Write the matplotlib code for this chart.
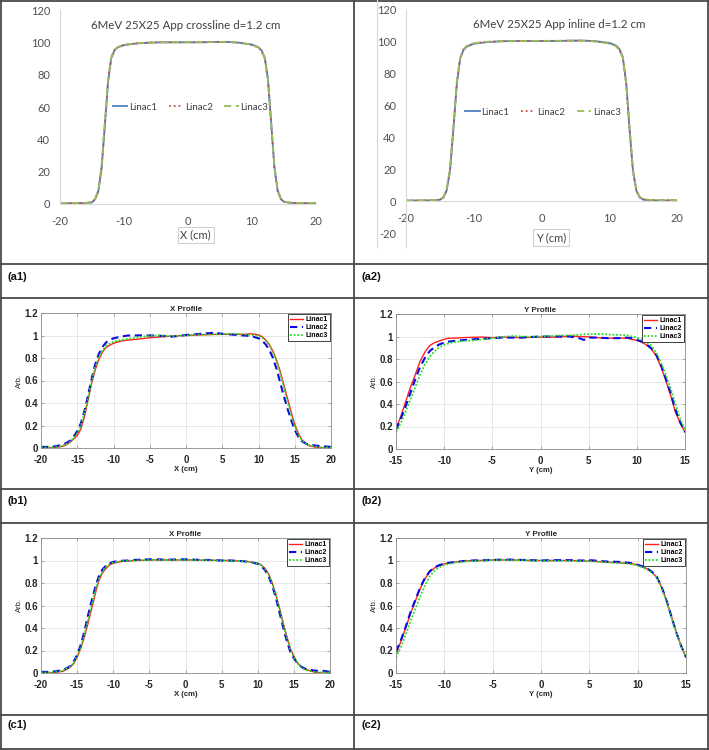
import matplotlib
matplotlib.use("Agg")
import matplotlib.pyplot as plt
from matplotlib.lines import Line2D

plt.rcParams["axes.unicode_minus"] = False

W, H = 709, 750

# ---------------- data ----------------
linac_names = ["Linac1", "Linac2", "Linac3"]

# (a1) crossline, percent
xa1 = [-20, -18, -16, -15, -14.5, -14, -13.5, -13, -12.5, -12, -11.5, -11, -10, -8, -6, -4, -2, 0,
       2, 4, 6, 8, 10, 11, 11.5, 12, 12.5, 13, 13.5, 14, 14.5, 15, 16, 18, 20]
a1_l1 = [0.5, 0.5, 0.6, 1.0, 3.0, 8.0, 22, 48, 75, 90, 95, 96.8, 98.3, 99.3, 99.8, 100, 100, 100,
         100, 100.2, 100.3, 99.8, 98.6, 97, 95, 90.5, 77, 50, 23, 8.5, 3.2, 1.3, 0.7, 0.5, 0.5]
a1_l2 = [0.4, 0.5, 0.6, 1.1, 3.2, 8.5, 23, 49, 76, 90.5, 95.2, 97, 98.5, 99.4, 99.9, 100, 100.1, 100,
         100.1, 100.2, 100.2, 99.7, 98.4, 96.8, 94.6, 90, 76, 49, 22, 8.2, 3.0, 1.4, 0.8, 0.6, 0.5]
a1_l3 = [0.5, 0.6, 0.7, 1.2, 3.4, 9.0, 24, 50, 76.5, 90.8, 95.3, 97.1, 98.4, 99.4, 99.8, 100, 100, 100.1,
         100.1, 100.1, 100.3, 99.8, 98.5, 96.9, 94.8, 90.2, 76.5, 50, 23.5, 9.0, 3.4, 1.5, 0.8, 0.6, 0.6]

# (a2) inline, percent
xa2 = [-20, -18, -16, -15, -14.5, -14, -13.5, -13, -12.5, -12, -11.5, -11, -10, -8, -6, -4, -2, 0,
       2, 4, 6, 8, 10, 11, 11.5, 12, 12.5, 13, 13.5, 14, 14.5, 15, 16, 18, 20]
a2_l1 = [0.3, 0.3, 0.4, 0.8, 2.0, 6.5, 19, 45, 73, 89, 94.5, 96.5, 98.3, 99.3, 99.8, 100, 100, 100,
         100, 100.2, 100.3, 99.9, 98.8, 97.2, 95, 90, 74, 45, 19, 6.5, 2.2, 0.9, 0.4, 0.3, 0.3]
a2_l2 = [0.3, 0.3, 0.4, 0.9, 2.2, 7.0, 20, 46, 74, 89.5, 94.8, 96.8, 98.5, 99.5, 99.9, 100, 100.1, 100,
         100.1, 100.1, 100.2, 99.7, 98.5, 96.9, 94.5, 89.5, 73, 44, 18.5, 6.3, 2.3, 1.0, 0.6, 0.5, 0.5]
a2_l3 = [0.3, 0.4, 0.5, 0.9, 2.4, 7.2, 20.5, 46.5, 74.5, 89.8, 95, 97, 98.6, 99.5, 99.8, 100, 100, 100.1,
         100.1, 100.2, 100.2, 99.7, 98.4, 96.7, 94.3, 89.6, 74, 46, 20, 7.0, 2.6, 1.2, 0.7, 0.6, 0.6]

# (b1)/(c1) X profile, normalised
xX = [-20, -19, -18, -17, -16.5, -16, -15.5, -15, -14.5, -14, -13.5, -13, -12.5, -12, -11.5, -11, -10.5,
      -10, -9, -8, -7, -6, -5, -4, -3, -2, -1, 0, 1, 2, 3, 4, 5, 6, 7, 8, 9, 10, 10.5, 11, 11.5, 12,
      12.5, 13, 13.5, 14, 14.5, 15, 15.5, 16, 16.5, 17, 18, 19, 20]
b1_l1 = [0.0, 0.0, 0.005, 0.015, 0.03, 0.05, 0.08, 0.11, 0.17, 0.28, 0.43, 0.58, 0.70, 0.79, 0.855, 0.895, 0.915,
         0.93, 0.95, 0.96, 0.965, 0.972, 0.98, 0.985, 0.99, 0.995, 0.998, 1.0, 1.003, 1.005, 1.008, 1.01, 1.01, 1.01,
         1.01, 1.01, 1.015, 1.005, 0.99, 0.96, 0.92, 0.86, 0.78, 0.68, 0.56, 0.44, 0.32, 0.21, 0.13, 0.07, 0.04,
         0.02, 0.005, 0.0, 0.0]
b1_l2 = [0.01, 0.01, 0.015, 0.03, 0.045, 0.065, 0.10, 0.15, 0.22, 0.33, 0.47, 0.62, 0.75, 0.84, 0.90, 0.94, 0.96,
         0.975, 0.99, 1.0, 1.0, 1.002, 1.0, 1.0, 0.995, 0.99, 0.995, 1.005, 1.01, 1.015, 1.02, 1.025, 1.015, 1.01,
         1.005, 1.0, 0.995, 0.975, 0.955, 0.92, 0.87, 0.80, 0.70, 0.58, 0.46, 0.35, 0.25, 0.16, 0.10, 0.06, 0.04,
         0.03, 0.02, 0.015, 0.01]
b1_l3 = [0.005, 0.005, 0.01, 0.02, 0.035, 0.055, 0.09, 0.13, 0.20, 0.31, 0.45, 0.60, 0.72, 0.81, 0.87, 0.91, 0.93,
         0.945, 0.96, 0.97, 0.98, 0.99, 0.995, 1.0, 0.998, 0.995, 0.998, 1.0, 1.005, 1.01, 1.008, 1.01, 1.012, 1.015,
         1.015, 1.01, 1.005, 0.995, 0.98, 0.955, 0.91, 0.85, 0.77, 0.66, 0.54, 0.41, 0.29, 0.19, 0.12, 0.07, 0.04,
         0.025, 0.01, 0.005, 0.005]

c1_l1 = [0.0, 0.0, 0.005, 0.015, 0.03, 0.05, 0.08, 0.14, 0.22, 0.32, 0.44, 0.57, 0.70, 0.82, 0.89, 0.93, 0.96,
         0.975, 0.99, 0.995, 1.0, 1.002, 1.005, 1.005, 1.005, 1.005, 1.005, 1.005, 1.005, 1.003, 1.003, 1.002, 1.0,
         1.0, 0.998, 0.995, 0.988, 0.976, 0.96, 0.93, 0.88, 0.80, 0.70, 0.58, 0.45, 0.33, 0.22, 0.15, 0.09, 0.06,
         0.035, 0.025, 0.005, 0.0, 0.0]
c1_l2 = [0.01, 0.01, 0.015, 0.025, 0.04, 0.06, 0.10, 0.16, 0.25, 0.37, 0.51, 0.64, 0.76, 0.86, 0.92, 0.955, 0.975,
         0.988, 0.997, 1.0, 1.005, 1.008, 1.01, 1.01, 1.008, 1.008, 1.01, 1.01, 1.008, 1.005, 1.005, 1.003, 1.0,
         1.0, 0.998, 0.993, 0.985, 0.97, 0.95, 0.915, 0.86, 0.78, 0.67, 0.54, 0.41, 0.29, 0.19, 0.13, 0.085, 0.055,
         0.04, 0.03, 0.02, 0.02, 0.01]
c1_l3 = [0.005, 0.005, 0.01, 0.02, 0.035, 0.055, 0.09, 0.15, 0.23, 0.34, 0.47, 0.60, 0.73, 0.84, 0.905, 0.945, 0.97,
         0.982, 0.993, 0.998, 1.0, 1.003, 1.005, 1.005, 1.005, 1.005, 1.005, 1.005, 1.005, 1.003, 1.003, 1.0, 1.0,
         0.998, 0.996, 0.993, 0.986, 0.974, 0.957, 0.925, 0.875, 0.795, 0.69, 0.57, 0.44, 0.32, 0.21, 0.14, 0.085,
         0.05, 0.03, 0.02, 0.008, 0.005, 0.005]

# (b2)/(c2) Y profile, normalised
xY = [-15, -14.5, -14, -13.5, -13, -12.5, -12, -11.5, -11, -10.5, -10, -9.5, -9, -8, -7, -6, -5, -4, -3, -2,
      -1, 0, 1, 2, 3, 4, 4.5, 5, 5.5, 6, 7, 8, 9, 9.5, 10, 10.5, 11, 11.5, 12, 12.5, 13, 13.5, 14, 14.5, 15]
b2_l1 = [0.18, 0.29, 0.42, 0.55, 0.66, 0.78, 0.86, 0.92, 0.945, 0.96, 0.975, 0.985, 0.985, 0.99, 0.993, 0.995,
         0.99, 0.995, 0.993, 0.99, 0.993, 0.995, 0.995, 0.995, 1.005, 1.0, 0.998, 0.997, 0.993, 0.99, 0.985, 0.985,
         0.985, 0.975, 0.965, 0.95, 0.925, 0.89, 0.83, 0.73, 0.61, 0.48, 0.33, 0.23, 0.15]
b2_l2 = [0.17, 0.27, 0.38, 0.50, 0.62, 0.73, 0.81, 0.87, 0.905, 0.93, 0.945, 0.955, 0.96, 0.968, 0.975, 0.98,
         0.985, 0.99, 0.99, 0.99, 0.995, 1.0, 1.0, 1.0, 1.0, 0.985, 0.97, 0.99, 0.99, 0.99, 0.985, 0.985, 0.99,
         0.985, 0.97, 0.955, 0.93, 0.895, 0.84, 0.75, 0.63, 0.50, 0.35, 0.24, 0.15]
b2_l3 = [0.15, 0.23, 0.33, 0.44, 0.55, 0.66, 0.75, 0.82, 0.87, 0.905, 0.925, 0.94, 0.95, 0.96, 0.965, 0.975,
         0.985, 0.995, 1.005, 1.0, 0.998, 1.0, 1.005, 1.008, 1.01, 1.015, 1.02, 1.02, 1.022, 1.022, 1.018, 1.015,
         1.01, 1.0, 0.99, 0.975, 0.95, 0.92, 0.86, 0.77, 0.66, 0.54, 0.40, 0.27, 0.17]

c2_l1 = [0.17, 0.28, 0.40, 0.53, 0.64, 0.75, 0.84, 0.90, 0.935, 0.955, 0.97, 0.98, 0.985, 0.995, 1.0, 1.0,
         1.005, 1.005, 1.005, 1.003, 1.0, 1.0, 1.0, 1.0, 1.0, 0.998, 0.995, 0.995, 0.993, 0.99, 0.985, 0.98,
         0.975, 0.97, 0.96, 0.945, 0.925, 0.895, 0.85, 0.76, 0.64, 0.50, 0.36, 0.24, 0.14]
c2_l2 = [0.19, 0.29, 0.41, 0.54, 0.65, 0.76, 0.845, 0.905, 0.94, 0.96, 0.972, 0.98, 0.985, 0.995, 1.0, 1.002,
         1.005, 1.008, 1.008, 1.005, 1.003, 1.0, 1.003, 1.003, 1.003, 1.0, 1.0, 1.003, 1.0, 0.995, 0.99, 0.988,
         0.98, 0.975, 0.962, 0.948, 0.928, 0.898, 0.85, 0.76, 0.64, 0.50, 0.36, 0.24, 0.14]
c2_l3 = [0.14, 0.23, 0.34, 0.46, 0.57, 0.68, 0.78, 0.86, 0.91, 0.94, 0.96, 0.97, 0.98, 0.99, 0.995, 1.0,
         1.003, 1.005, 1.003, 1.003, 1.0, 1.0, 0.998, 0.998, 0.998, 0.996, 0.994, 0.993, 0.99, 0.988, 0.983, 0.978,
         0.972, 0.966, 0.955, 0.94, 0.92, 0.89, 0.845, 0.75, 0.63, 0.49, 0.36, 0.24, 0.14]

a_titles = ["6MeV 25X25 App crossline d=1.2 cm", "6MeV 25X25 App inline d=1.2 cm"]
a_xlabels = ["X (cm)", "Y (cm)"]
m_titles = ["X Profile", "Y Profile"]
m_xlabels = ["X (cm)", "Y (cm)"]
panel_labels = ["(a1)", "(a2)", "(b1)", "(b2)", "(c1)", "(c2)"]

# ---------------- figure ----------------
fig = plt.figure(figsize=(W / 100, H / 100), dpi=100)


def rect(l, t, r, b):
    return [l / W, 1 - b / H, (r - l) / W, (b - t) / H]


def fline(x0, y0, x1, y1, color="#4a4a4a", lw=1.3):
    fig.add_artist(Line2D([x0 / W, x1 / W], [1 - y0 / H, 1 - y1 / H],
                          transform=fig.transFigure, color=color, lw=lw))


# table grid
for yy in [0.7, 264, 298, 489, 523, 715, 749]:
    fline(0, yy, W, yy)
for xx in [0.7, 354, 708]:
    fline(xx, 0, xx, H)

for lab, (px, py) in zip(panel_labels, [(8, 277), (362, 277), (8, 501), (362, 501), (8, 725), (362, 725)]):
    fig.text(px / W, 1 - py / H, lab, fontsize=8, fontweight="bold", family="Liberation Sans",
             ha="left", va="center", color="#111111")

# ---- Excel-style panels ----
xl_colors = ["#4F81BD", "#C0504D", "#9BBB59"]
xl_styles = ["-", ":", (0, (4, 2.5))]
XLFONT = "Lato"
TXT = "#505050"

a_specs = [
    dict(rect=rect(60, 10, 316, 204), x=xa1, ys=[a1_l1, a1_l2, a1_l3], ylim=(0, 120),
         yt=[0, 20, 40, 60, 80, 100, 120], title_xy=(0.49, 0.92), leg_xy=(0.51, 0.5),
         lab_xy=(0.53, -0.16), spine0=False),
    dict(rect=rect(406, 9, 677, 233), x=xa2, ys=[a2_l1, a2_l2, a2_l3], ylim=(-20, 120),
         yt=[-20, 0, 20, 40, 60, 80, 100, 120], title_xy=(0.565, 0.93), leg_xy=(0.505, 0.54),
         lab_xy=(0.535, -0.02), spine0=True),
]

for i, s in enumerate(a_specs):
    ax = fig.add_axes(s["rect"])
    for y, c, ls, nm in zip(s["ys"], xl_colors, xl_styles, linac_names):
        ax.plot(s["x"], y, color=c, ls=ls, lw=1.3, label=nm)
    ax.set_xlim(-20, 20)
    ax.set_ylim(*s["ylim"])
    ax.set_xticks([-20, -10, 0, 10, 20])
    ax.set_yticks(s["yt"])
    for sp in ["top", "right"]:
        ax.spines[sp].set_visible(False)
    ax.spines["left"].set_color("#D9D9D9")
    ax.spines["bottom"].set_color("#D9D9D9")
    if s["spine0"]:
        ax.spines["bottom"].set_position(("data", 0))
    ax.tick_params(length=0, labelsize=8, labelcolor=TXT)
    ax.tick_params(axis="x", pad=8.5)
    ax.tick_params(axis="y", pad=7)
    for t in ax.get_xticklabels() + ax.get_yticklabels():
        t.set_family(XLFONT)
    ax.patch.set_alpha(0)
    ax.text(*s["title_xy"], a_titles[i], transform=ax.transAxes, ha="center", va="center",
            fontsize=8.3, family=XLFONT, color="#404040")
    ax.text(*s["lab_xy"], a_xlabels[i], transform=ax.transAxes, ha="center", va="center",
            fontsize=8, family=XLFONT, color="#404040",
            bbox=dict(boxstyle="square,pad=0.25", fc="white", ec="#D0D0D0", lw=0.8))
    leg = ax.legend(loc="center", bbox_to_anchor=s["leg_xy"], ncol=3, frameon=False,
                    prop=dict(family=XLFONT, size=7), handlelength=1.5, handletextpad=0.15,
                    columnspacing=1.2)
    for t in leg.get_texts():
        t.set_color("#404040")

# extra faint gridline of panel a2
fline(377, 0, 377, 247, color="#D9D9D9", lw=0.8)
fline(406, 233, 406, 247, color="#D9D9D9", lw=0.8)

# ---- MATLAB-style panels ----
m_colors = ["#FF2020", "#0A0AE6", "#22E022"]
m_styles = ["-", (0, (3.5, 2.2)), (0, (1, 1))]
m_lws = [1.0, 1.5, 1.3]
MFONT = "Liberation Sans"
AXC = "#262626"

m_specs = [
    dict(rect=rect(41, 313, 331, 448), x=xX, ys=[b1_l1, b1_l2, b1_l3], xl=(-20, 20),
         xt=[-20, -15, -10, -5, 0, 5, 10, 15, 20], k=0),
    dict(rect=rect(396, 314, 685, 449), x=xY, ys=[b2_l1, b2_l2, b2_l3], xl=(-15, 15),
         xt=[-15, -10, -5, 0, 5, 10, 15], k=1),
    dict(rect=rect(41, 538, 330, 673), x=xX, ys=[c1_l1, c1_l2, c1_l3], xl=(-20, 20),
         xt=[-20, -15, -10, -5, 0, 5, 10, 15, 20], k=0),
    dict(rect=rect(396, 538, 686, 673), x=xY, ys=[c2_l1, c2_l2, c2_l3], xl=(-15, 15),
         xt=[-15, -10, -5, 0, 5, 10, 15], k=1),
]

for s in m_specs:
    ax = fig.add_axes(s["rect"])
    for y, c, ls, lw, nm in zip(s["ys"], m_colors, m_styles, m_lws, linac_names):
        ax.plot(s["x"], y, color=c, ls=ls, lw=lw, label=nm)
    ax.set_xlim(*s["xl"])
    ax.set_ylim(0, 1.2)
    ax.set_xticks(s["xt"])
    ax.set_yticks([0, 0.2, 0.4, 0.6, 0.8, 1, 1.2])
    ax.set_yticklabels(["0", "0.2", "0.4", "0.6", "0.8", "1", "1.2"])
    ax.grid(True, color="#E3E3E3", lw=0.6)
    ax.set_axisbelow(True)
    for sp in ax.spines.values():
        sp.set_color("#8a8a8a")
        sp.set_linewidth(0.6)
    ax.tick_params(direction="in", length=2, width=0.5, color="#8a8a8a",
                   labelsize=7, labelcolor=AXC, top=True, right=True)
    ax.tick_params(axis="x", pad=4.8)
    ax.tick_params(axis="y", pad=2)
    for t in ax.get_xticklabels() + ax.get_yticklabels():
        t.set_family(MFONT)
        t.set_fontweight("bold")
    ax.set_title(m_titles[s["k"]], fontsize=5.7, fontweight="bold", family=MFONT, pad=1.5, color=AXC)
    ax.set_xlabel(m_xlabels[s["k"]], fontsize=5.6, fontweight="bold", family=MFONT, labelpad=0.8, color=AXC)
    ax.set_ylabel("Arb.", fontsize=5.5, family=MFONT, labelpad=1, color=AXC)
    leg = ax.legend(loc="upper right", fancybox=False, framealpha=1, edgecolor="#222222",
                    prop=dict(family=MFONT, size=5, weight="bold"), handlelength=2.0,
                    handletextpad=0.3, borderpad=0.25, labelspacing=0.15, borderaxespad=0.2)
    leg.get_frame().set_linewidth(0.6)

fig.savefig("out.png", dpi=100)
